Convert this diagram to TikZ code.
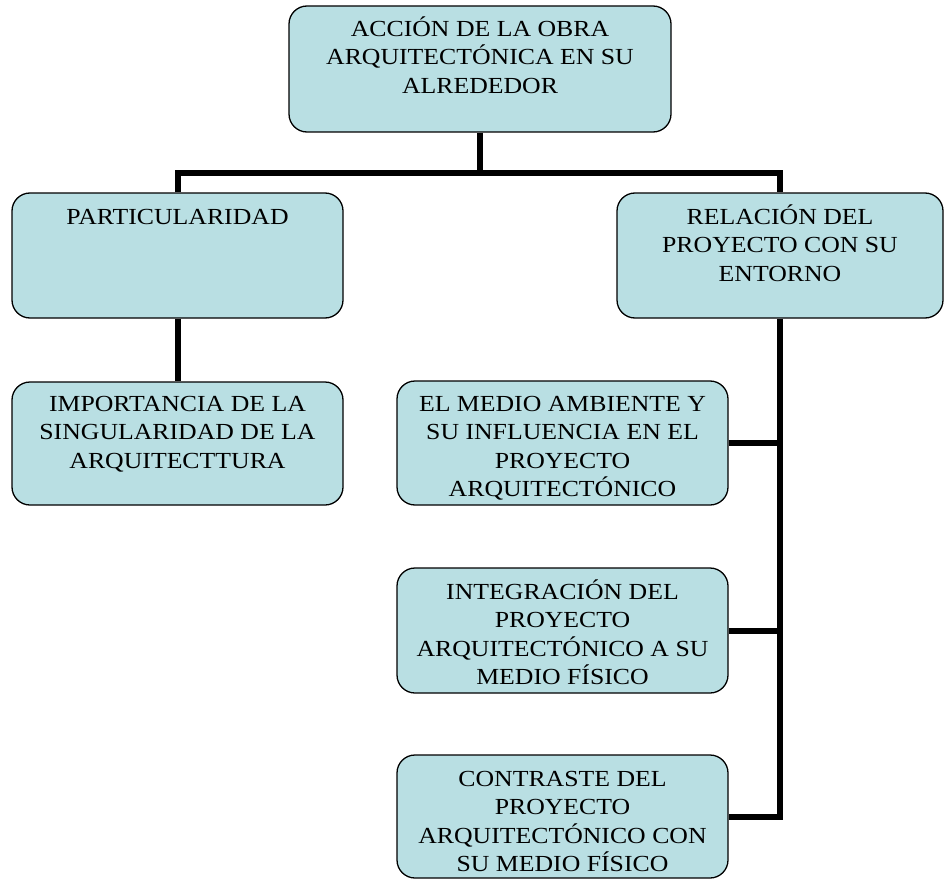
\documentclass[tikz,border=0pt]{standalone}
\usepackage{fontspec}
\setmainfont{Liberation Serif}
\newfontfamily\boxfont[FakeStretch=1.12]{Liberation Serif}
\definecolor{boxfill}{RGB}{185,223,227}

\begin{document}
\begin{tikzpicture}[x=1pt,y=-1pt,
    box/.style={draw=black,line width=1.3pt,fill=boxfill,rounded corners=18pt,inner sep=0pt,
      minimum width=331pt,minimum height=124pt},
    txt/.style={align=center,anchor=base,font=\boxfont\fontsize{23}{28.5}\selectfont},
    conn/.style={line width=6pt}]
    \useasboundingbox (0,0) rectangle (945,880);

    \node[box,minimum width=382pt,minimum height=126pt] (acc) at (480,69) {};
    \node[box,minimum height=125pt] (part) at (177.5,255.5) {};
    \node[box,minimum width=326pt,minimum height=125pt] (rel) at (780,255.5) {};
    \node[box,minimum height=123pt] (imp) at (177.5,443.5) {};
    \node[box] (med) at (562.5,443) {};
    \node[box,minimum height=125pt] (integ) at (562.5,630.5) {};
    \node[box,minimum height=123pt] (con) at (562.5,816.5) {};

    % base anchor sits on the last line
    \node[txt] (acc-t) at ([yshift=-88pt]acc.north) {ACCIÓN DE LA OBRA\\ARQUITECTÓNICA EN SU\\ALREDEDOR};
    \node[txt] (part-t) at ([yshift=-32pt]part.north) {PARTICULARIDAD};
    \node[txt] (rel-t) at ([yshift=-89pt]rel.north) {RELACIÓN DEL\\PROYECTO CON SU\\ENTORNO};
    \node[txt] (imp-t) at ([yshift=-87pt]imp.north) {IMPORTANCIA DE LA\\SINGULARIDAD DE LA\\ARQUITECTTURA};
    \node[txt] (med-t) at ([yshift=-116.5pt]med.north) {EL MEDIO AMBIENTE Y\\SU INFLUENCIA EN EL\\PROYECTO\\ARQUITECTÓNICO};
    \node[txt] (integ-t) at ([yshift=-117.5pt]integ.north) {INTEGRACIÓN DEL\\PROYECTO\\ARQUITECTÓNICO A SU\\MEDIO FÍSICO};
    \node[txt] (con-t) at ([yshift=-117.5pt]con.north) {CONTRASTE DEL\\PROYECTO\\ARQUITECTÓNICO CON\\SU MEDIO FÍSICO};

    \coordinate (bus) at (480,173);
    \draw[conn] (acc.south) -- (bus);
    \draw[conn] (part.north) |- (bus) -| (rel.north);
    \draw[conn] (part.south) -- (imp.north);
    \draw[conn] (rel.south) |- (con.east);
    \draw[conn] (med.east) -- (med.east -| rel.south);
    \draw[conn] (integ.east) -- (integ.east -| rel.south);
\end{tikzpicture}
\end{document}
